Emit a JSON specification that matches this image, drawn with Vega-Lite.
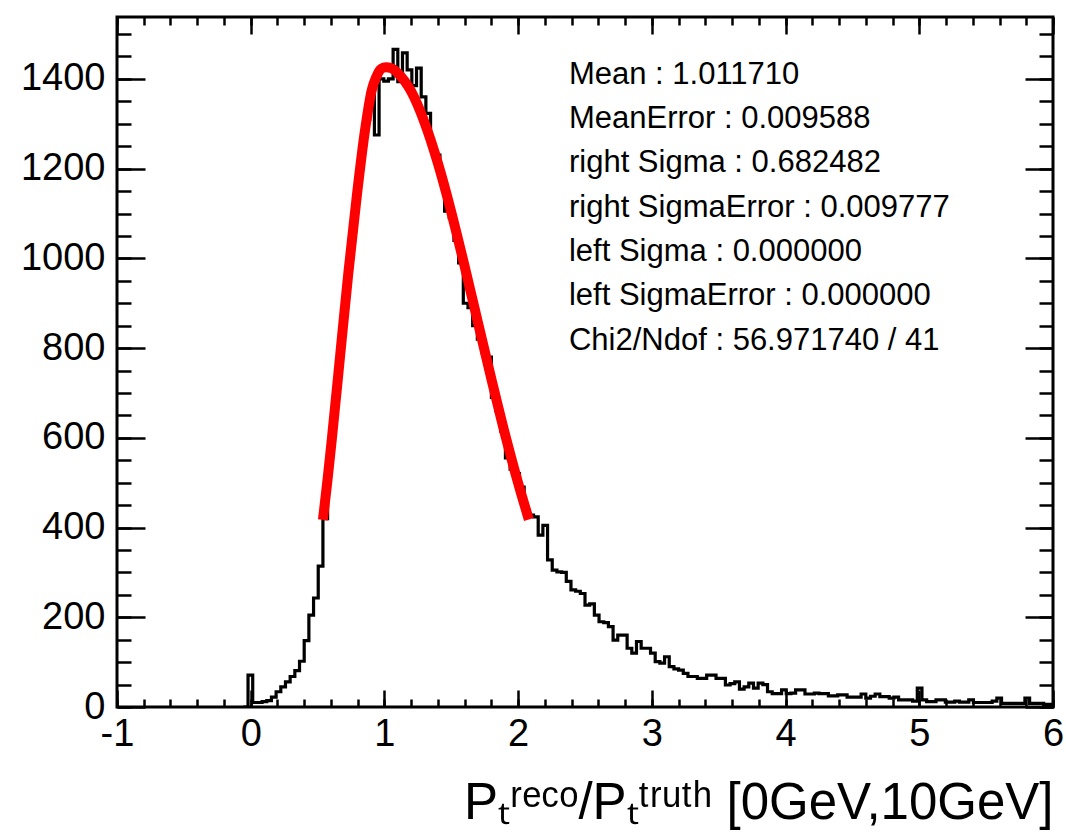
{
  "$schema": "https://vega.github.io/schema/vega-lite/v6.json",
  "width": 936,
  "height": 690,
  "autosize": {"type": "none"},
  "padding": {"left": 117, "top": 17, "right": 13, "bottom": 132},
  "background": "white",
  "config": {
    "view": {"stroke": "black", "strokeWidth": 3},
    "font": "Liberation Sans",
    "axis": {"domain": false, "grid": false, "tickColor": "black", "tickWidth": 2.5, "labelColor": "black", "labelFont": "Liberation Sans", "labelFontSize": 38, "labelFlush": false, "labelOverlap": false, "titleColor": "black"}
  },
  "datasets": {
    "hist": [
      {"x":-0.055,"n":0},{"x":-0.02,"n":71},{"x":0.015,"n":10},{"x":0.05,"n":10},{"x":0.085,"n":12},{"x":0.12,"n":14},{"x":0.155,"n":22},{"x":0.19,"n":34},{"x":0.225,"n":45},{"x":0.26,"n":56},{"x":0.295,"n":68},{"x":0.33,"n":81},{"x":0.365,"n":102},{"x":0.4,"n":148},{"x":0.435,"n":205},{"x":0.47,"n":243},{"x":0.505,"n":314},{"x":0.54,"n":420},{"x":0.575,"n":560},{"x":0.61,"n":650},{"x":0.645,"n":760},{"x":0.68,"n":880},{"x":0.715,"n":970},{"x":0.75,"n":1060},{"x":0.785,"n":1150},{"x":0.82,"n":1240},{"x":0.855,"n":1310},{"x":0.89,"n":1364},{"x":0.925,"n":1275},{"x":0.96,"n":1400},{"x":0.995,"n":1395},{"x":1.03,"n":1400},{"x":1.065,"n":1466},{"x":1.1,"n":1394},{"x":1.135,"n":1458},{"x":1.17,"n":1420},{"x":1.205,"n":1385},{"x":1.24,"n":1424},{"x":1.275,"n":1360},{"x":1.31,"n":1323},{"x":1.345,"n":1250},{"x":1.38,"n":1230},{"x":1.415,"n":1180},{"x":1.45,"n":1105},{"x":1.485,"n":1090},{"x":1.52,"n":1040},{"x":1.555,"n":990},{"x":1.59,"n":900},{"x":1.625,"n":890},{"x":1.66,"n":850},{"x":1.695,"n":820},{"x":1.73,"n":790},{"x":1.765,"n":780},{"x":1.8,"n":690},{"x":1.835,"n":660},{"x":1.87,"n":615},{"x":1.905,"n":555},{"x":1.94,"n":530},{"x":1.975,"n":520},{"x":2.01,"n":490},{"x":2.045,"n":440},{"x":2.08,"n":428},{"x":2.115,"n":424},{"x":2.15,"n":383},{"x":2.185,"n":405},{"x":2.22,"n":328},{"x":2.255,"n":305},{"x":2.29,"n":301},{"x":2.325,"n":300},{"x":2.36,"n":280},{"x":2.395,"n":261},{"x":2.43,"n":258},{"x":2.465,"n":253},{"x":2.5,"n":227},{"x":2.535,"n":230},{"x":2.57,"n":205},{"x":2.605,"n":190},{"x":2.64,"n":188},{"x":2.675,"n":179},{"x":2.71,"n":149},{"x":2.745,"n":160},{"x":2.78,"n":160},{"x":2.815,"n":131},{"x":2.85,"n":120},{"x":2.885,"n":146},{"x":2.92,"n":131},{"x":2.955,"n":131},{"x":2.99,"n":120},{"x":3.025,"n":101},{"x":3.06,"n":98},{"x":3.095,"n":112},{"x":3.13,"n":90},{"x":3.165,"n":85},{"x":3.2,"n":82},{"x":3.235,"n":75},{"x":3.27,"n":68},{"x":3.305,"n":68},{"x":3.34,"n":64},{"x":3.375,"n":64},{"x":3.41,"n":71},{"x":3.445,"n":71},{"x":3.48,"n":64},{"x":3.515,"n":64},{"x":3.55,"n":49},{"x":3.585,"n":52},{"x":3.62,"n":56},{"x":3.655,"n":40},{"x":3.69,"n":45},{"x":3.725,"n":53},{"x":3.76,"n":42},{"x":3.795,"n":53},{"x":3.83,"n":50},{"x":3.865,"n":34},{"x":3.9,"n":30},{"x":3.935,"n":30},{"x":3.97,"n":38},{"x":4.005,"n":30},{"x":4.04,"n":31},{"x":4.075,"n":38},{"x":4.11,"n":38},{"x":4.145,"n":29},{"x":4.18,"n":29},{"x":4.215,"n":31},{"x":4.25,"n":30},{"x":4.285,"n":30},{"x":4.32,"n":25},{"x":4.355,"n":25},{"x":4.39,"n":27},{"x":4.425,"n":27},{"x":4.46,"n":22},{"x":4.495,"n":22},{"x":4.53,"n":22},{"x":4.565,"n":29},{"x":4.6,"n":20},{"x":4.635,"n":24},{"x":4.67,"n":29},{"x":4.705,"n":23},{"x":4.74,"n":23},{"x":4.775,"n":20},{"x":4.81,"n":22},{"x":4.845,"n":16},{"x":4.88,"n":16},{"x":4.915,"n":16},{"x":4.95,"n":13},{"x":4.985,"n":42},{"x":5.02,"n":16},{"x":5.055,"n":12},{"x":5.09,"n":12},{"x":5.125,"n":16},{"x":5.16,"n":16},{"x":5.195,"n":11},{"x":5.23,"n":11},{"x":5.265,"n":13},{"x":5.3,"n":11},{"x":5.335,"n":11},{"x":5.37,"n":16},{"x":5.405,"n":10},{"x":5.44,"n":10},{"x":5.475,"n":10},{"x":5.51,"n":10},{"x":5.545,"n":13},{"x":5.58,"n":20},{"x":5.615,"n":8},{"x":5.65,"n":8},{"x":5.685,"n":8},{"x":5.72,"n":8},{"x":5.755,"n":8},{"x":5.79,"n":20},{"x":5.825,"n":8},{"x":5.86,"n":8},{"x":5.895,"n":8},{"x":5.93,"n":6},{"x":5.965,"n":6},{"x":6.0,"n":6}
    ],
    "fit": [
      {"x":0.54,"y":417},{"x":0.575,"y":508},{"x":0.606,"y":595},{"x":0.668,"y":781},{"x":0.73,"y":967},{"x":0.793,"y":1138},{"x":0.855,"y":1286},{"x":0.905,"y":1375},{"x":0.94,"y":1405},{"x":0.967,"y":1420},{"x":0.99,"y":1425},{"x":1.012,"y":1426},{"x":1.05,"y":1424},{"x":1.1,"y":1413},{"x":1.2,"y":1372},{"x":1.3,"y":1303},{"x":1.4,"y":1212},{"x":1.5,"y":1103},{"x":1.6,"y":982},{"x":1.7,"y":856},{"x":1.8,"y":731},{"x":1.9,"y":610},{"x":2.0,"y":499},{"x":2.08,"y":418}
    ],
    "stats": [
      {"label": "Mean : 1.011710"}
    ]
  },
  "layer": [
    {
      "data": {"name": "hist"},
      "mark": {"type": "line", "interpolate": "step-after", "color": "black", "strokeWidth": 3.2, "clip": true},
      "encoding": {
        "x": {"field": "x", "type": "quantitative", "scale": {"domain": [-1, 6], "nice": false, "zero": false},
          "axis": {"orient": "bottom", "values": [-1,0,1,2,3,4,5,6], "tickSize": -17, "labelPadding": 25, "labelExpr": "'' + datum.value",
            "title": "Pₜʳᵉᶜᵒ/Pₜᵗʳᵘᵗʰ [0GeV,10GeV]", "titleFont": "Liberation Sans", "titleFontSize": 51, "titleFontWeight": "normal", "titleAnchor": "end", "titleAlign": "right", "titleBaseline": "alphabetic", "titleX": 936, "titleY": 111}},
        "y": {"field": "n", "type": "quantitative", "scale": {"domain": [0, 1538], "nice": false, "zero": true},
          "axis": {"orient": "left", "values": [0,200,400,600,800,1000,1200,1400], "tickSize": -28, "labelPadding": 40, "labelExpr": "'' + datum.value", "title": null}}
      }
    },
    {
      "data": {"name": "hist"},
      "mark": {"type": "line", "strokeOpacity": 0},
      "encoding": {
        "x": {"field": "x", "type": "quantitative", "scale": {"domain": [-1, 6], "nice": false, "zero": false},
          "axis": {"orient": "bottom", "values": [-1,-0.8,-0.6,-0.4,-0.2,0,0.2,0.4,0.6,0.8,1,1.2,1.4,1.6,1.8,2,2.2,2.4,2.6,2.8,3,3.2,3.4,3.6,3.8,4,4.2,4.4,4.6,4.8,5,5.2,5.4,5.6,5.8,6], "tickSize": -8, "labels": false, "title": null}},
        "y": {"field": "n", "type": "quantitative", "scale": {"domain": [0, 1538], "nice": false},
          "axis": {"orient": "left", "values": [0,50,100,150,200,250,300,350,400,450,500,550,600,650,700,750,800,850,900,950,1000,1050,1100,1150,1200,1250,1300,1350,1400,1450,1500], "tickSize": -14, "labels": false, "title": null}}
      }
    },
    {
      "data": {"name": "hist"},
      "mark": {"type": "line", "strokeOpacity": 0},
      "encoding": {
        "x": {"field": "x", "type": "quantitative", "scale": {"domain": [-1, 6], "nice": false, "zero": false},
          "axis": {"orient": "top", "values": [-1,-0.8,-0.6,-0.4,-0.2,0,0.2,0.4,0.6,0.8,1,1.2,1.4,1.6,1.8,2,2.2,2.4,2.6,2.8,3,3.2,3.4,3.6,3.8,4,4.2,4.4,4.6,4.8,5,5.2,5.4,5.6,5.8,6], "tickSize": -8, "labels": false, "title": null}},
        "y": {"field": "n", "type": "quantitative", "scale": {"domain": [0, 1538], "nice": false},
          "axis": {"orient": "right", "values": [0,50,100,150,200,250,300,350,400,450,500,550,600,650,700,750,800,850,900,950,1000,1050,1100,1150,1200,1250,1300,1350,1400,1450,1500], "tickSize": -14, "labels": false, "title": null}}
      }
    },
    {
      "data": {"name": "fit"},
      "mark": {"type": "line", "interpolate": "monotone", "color": "#ff0000", "strokeWidth": 10, "strokeCap": "butt"},
      "encoding": {
        "x": {"field": "x", "type": "quantitative", "scale": {"domain": [-1, 6], "nice": false, "zero": false},
          "axis": {"orient": "top", "values": [-1,0,1,2,3,4,5,6], "tickSize": -17, "labels": false, "title": null}},
        "y": {"field": "y", "type": "quantitative", "scale": {"domain": [0, 1538], "nice": false},
          "axis": {"orient": "right", "values": [0,200,400,600,800,1000,1200,1400], "tickSize": -28, "labels": false, "title": null}}
      }
    },
    {
      "data": {"name": "stats"},
      "mark": {"type": "text", "align": "left", "baseline": "alphabetic", "font": "Liberation Sans", "fontSize": 31, "lineHeight": 44.3, "color": "black"},
      "encoding": {
        "x": {"datum": 2.38, "type": "quantitative", "axis": null},
        "y": {"datum": 1389, "type": "quantitative", "axis": null},
        "text": {"value": ["Mean : 1.011710", "MeanError : 0.009588", "right Sigma : 0.682482", "right SigmaError : 0.009777", "left Sigma : 0.000000", "left SigmaError : 0.000000", "Chi2/Ndof : 56.971740 / 41"]}
      }
    }
  ],
  "resolve": {"axis": {"x": "independent", "y": "independent"}}
}
